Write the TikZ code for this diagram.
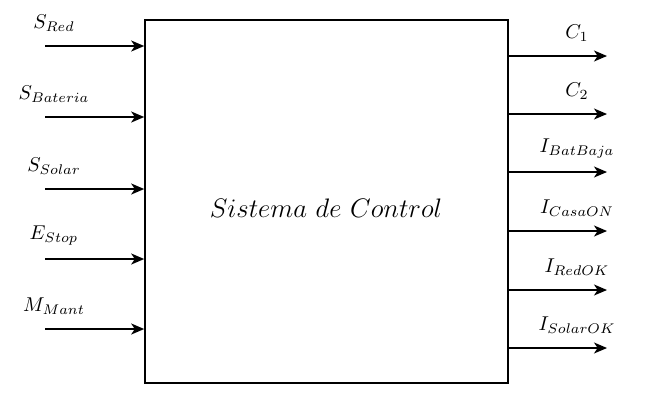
\documentclass[tikz,border=0pt]{standalone}
\usetikzlibrary{arrows.meta}
\begin{document}
\begin{tikzpicture}[x=0.5pt,y=-0.5pt,
  sig/.style={line width=0.8pt,-{Stealth[length=6.5pt,width=5.5pt,inset=1.8pt]}},
  lbl/.style={inner sep=0pt,font=\normalsize},
  sysbox/.style={draw,line width=0.8pt,minimum width=181.5pt,minimum height=181.5pt,inner sep=0pt}]
\useasboundingbox (0,0) rectangle (646,408);
\node[sysbox] (sys) at (326.5,201.5) {};
\node[inner sep=0pt,font=\fontsize{12}{14}\selectfont,scale=1.115,transform shape] (title) at (326,208) {$Sistema\ de\ Control$};
% inputs
\foreach \n/\y/\t in {i1/46/{S_{Red}}, i2/117/{S_{Bateria}}, i3/189/{S_{Solar}}, i4/259/{E_{Stop}}, i5/329/{M_{Mant}}}{
  \coordinate (\n s) at (45,\y);
  \coordinate (\n e) at (sys.west |- 0,\y);
  \draw[sig] (\n s) -- (\n e);
  \node[lbl] (\n l) at (54,\y-23) {$\t$};
}
% outputs
\foreach \n/\y/\t in {o1/56/{C_1}, o2/114/{C_2}, o3/172/{I_{BatBaja}}, o4/231/{I_{CasaON}}, o5/290/{I_{RedOK}}, o6/348/{I_{SolarOK}}}{
  \coordinate (\n s) at (sys.east |- 0,\y);
  \coordinate (\n e) at (607,\y);
  \draw[sig] (\n s) -- (\n e);
  \node[lbl] (\n l) at (577,\y-23) {$\t$};
}
\end{tikzpicture}
\end{document}
